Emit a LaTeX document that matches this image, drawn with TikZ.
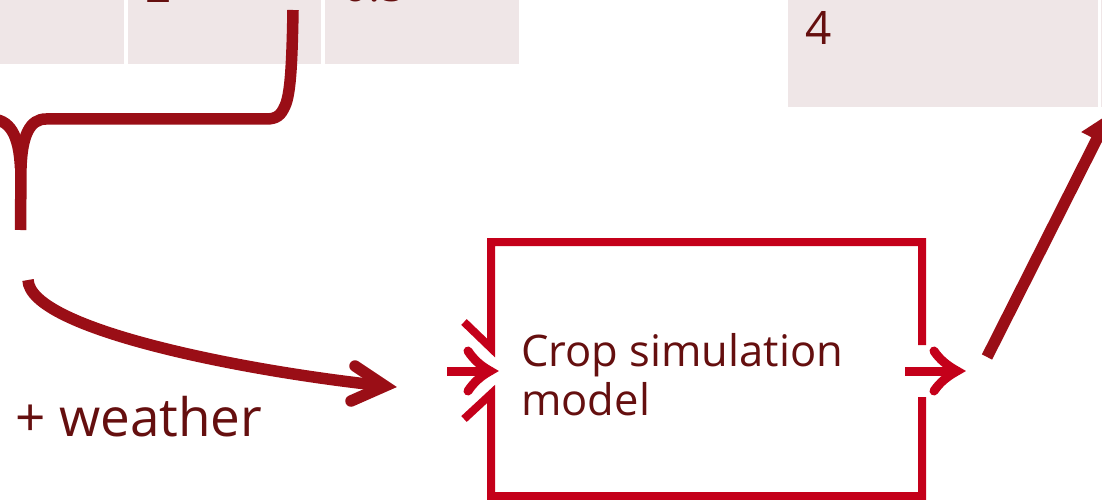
\documentclass[tikz,border=0pt]{standalone}
\usepackage{fontspec}
\setmainfont{Open Sans}
\usetikzlibrary{arrows.meta}
\definecolor{brace}{HTML}{9A0E16}
\definecolor{boxred}{HTML}{C4001A}
\definecolor{txt}{HTML}{650F0F}
\definecolor{cellc}{HTML}{EFE6E7}
\tikzset{
  darkline/.style={draw=brace, line width=11.5pt},
  redline/.style={draw=boxred, line width=8pt},
  redarrow/.style={draw=boxred, line width=9pt},
  lbl/.style={text=txt, inner sep=0pt, anchor=base west},
  tablecell/.style={fill=cellc, draw=none, inner sep=0pt, anchor=north west},
}
\begin{document}
\begin{tikzpicture}[x=1pt,y=-1pt]
\useasboundingbox (0,0) rectangle (1102,500);
\clip (0,0) rectangle (1102,500);
% table cells
\node[tablecell, minimum width=125pt, minimum height=84pt] (c1) at (-1,-20) {};
\node[tablecell, minimum width=193pt, minimum height=84pt] (c2) at (128,-20) {};
\node[tablecell, minimum width=194pt, minimum height=84pt] (c3) at (325,-20) {};
\node[tablecell, minimum width=310pt, minimum height=127pt] (c4) at (788,-20) {};
\node[tablecell, minimum width=20pt, minimum height=127pt] (c5) at (1101,-20) {};
\node[lbl, font=\fontsize{46}{50}\selectfont] (t2) at (145,2.5) {2};
\node[lbl, font=\fontsize{46}{50}\selectfont] (t05) at (342,2) {0.5};
\node[lbl, font=\fontsize{46}{50}\selectfont] (t4) at (805,45) {4};
% brace
\coordinate (btop) at (293,10);
\coordinate (btip) at (20.5,230);
\draw[darkline] (btop) .. controls (292,70) and (290,95) .. (285,106)
  .. controls (281,115) and (277,119) .. (266,119) -- (46,119)
  .. controls (30,119) and (22,135) .. (21,168) -- (btip);
\draw[darkline] (-10,119) .. controls (10,119) and (19,135) .. (20.5,168);
% curved arrow
\coordinate (cstart) at (28,280);
\coordinate (cend) at (385,386);
\draw[darkline] (cstart) .. controls (30,330) and (250,372) .. (cend);
\draw[darkline, line cap=round, line join=miter] (355,366) -- (cend) -- (351,401);
\node[lbl, font=\fontsize{53}{60}\selectfont] (weather) at (15,436) {+ weather};
% model box
\node[minimum width=431pt, minimum height=254pt, inner sep=0pt] (model) at (706.5,369) {};
\draw[redline, line join=miter] (464,322) -- (491,348) -- (491,242) -- (922,242) -- (922,345);
\draw[redline, line join=miter] (464,419) -- (491,394) -- (491,496) -- (922,496) -- (922,397);
\node[lbl, font=\fontsize{43.5}{49}\selectfont] (crop) at (521,366) {Crop simulation};
\node[lbl, font=\fontsize{43.5}{49}\selectfont] (modeltxt) at (521,415) {model};
% input arrow
\coordinate (inS) at (447,371);
\coordinate (inE) at (490,371);
\draw[redarrow] (inS) -- (inE);
\draw[redarrow, line cap=round] (468,351) .. controls (474,360) and (481,366) .. (inE)
  .. controls (481,376) and (474,382) .. (468,391);
% output arrow
\coordinate (outS) at (905,371);
\coordinate (outE) at (957,371);
\draw[redarrow] (outS) -- (outE);
\draw[redarrow, line cap=round] (934,351) .. controls (940,360) and (948,366) .. (outE)
  .. controls (948,376) and (940,382) .. (934,391);
% diagonal arrow to result table
\coordinate (dS) at (987,357);
\coordinate (dE) at (1110,113);
\draw[darkline, -{Triangle[length=30pt,width=32pt]}] (dS) -- (dE);
\end{tikzpicture}
\end{document}
